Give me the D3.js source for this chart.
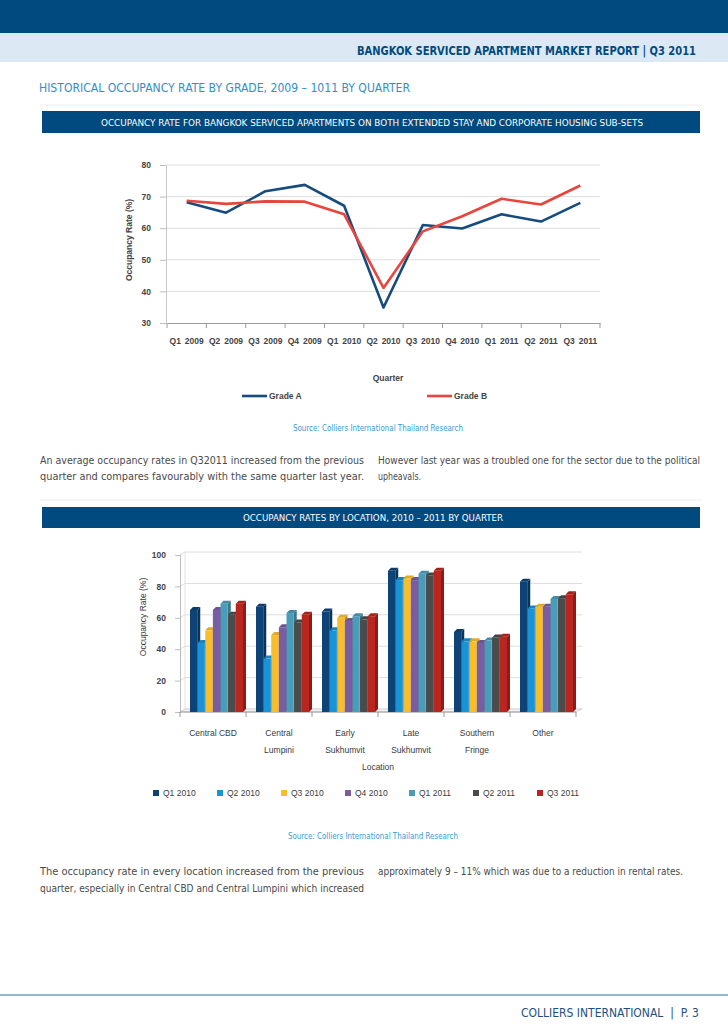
<!DOCTYPE html>
<html><head><meta charset="utf-8">
<script src="https://cdn.jsdelivr.net/npm/d3@7"></script>
<style>
body{margin:0;background:#fff;}
svg{display:block;}
</style></head><body>
<svg id="page" width="728" height="1030"></svg>
<script>
// ---------- DATA ----------
const quarters = ["Q1 2009","Q2 2009","Q3 2009","Q4 2009","Q1 2010","Q2 2010","Q3 2010","Q4 2010","Q1 2011","Q2 2011","Q3 2011"];
const gradeA = [68.2, 64.9, 71.7, 73.7, 67.1, 34.9, 61.0, 59.9, 64.4, 62.1, 68.0];
const gradeB = [68.7, 67.7, 68.5, 68.4, 64.4, 41.1, 59.0, 63.8, 69.3, 67.5, 73.5];
const lineTicks = [30, 40, 50, 60, 70, 80];

const locations = ["Central CBD", "Central Lumpini", "Early Sukhumvit", "Late Sukhumvit", "Southern Fringe", "Other"];
const locationLines = [["Central CBD"], ["Central", "Lumpini"], ["Early", "Sukhumvit"], ["Late", "Sukhumvit"], ["Southern", "Fringe"], ["Other"]];
const barSeries = ["Q1 2010", "Q2 2010", "Q3 2010", "Q4 2010", "Q1 2011", "Q2 2011", "Q3 2011"];
const q1_2010 = [65, 67, 64, 90, 51, 83];
const q2_2010 = [44, 34, 52, 84, 45, 66];
const q3_2010 = [52, 49, 60, 85, 45, 67];
const q4_2010 = [65, 54, 58, 84, 44, 67];
const q1_2011 = [69, 63, 61, 88, 45.5, 72];
const q2_2011 = [62, 57, 59, 87, 47.5, 72.5];
const q3_2011 = [69, 62, 61, 90, 48, 75];
const barTicks = [0, 20, 40, 60, 80, 100];
const barColors = ["#0e4377", "#1a93d6", "#f8bd29", "#7a5ca2", "#4a9db8", "#4b4b4b", "#b8261f"];

// ---------- PAGE ----------
const svg = d3.select("#page");
const NAVY = "#004a80";
const FONT = "'Liberation Sans Narrow','DejaVu Sans Condensed','Liberation Sans',sans-serif";
const ARIAL = "'Liberation Sans',Arial,sans-serif";

svg.append("rect").attr("x",0).attr("y",0).attr("width",728).attr("height",33).attr("fill",NAVY);
svg.append("rect").attr("x",0).attr("y",33).attr("width",728).attr("height",29).attr("fill","#dce9f5");

function fitText(sel, x, y, len, anchor){
  sel.attr("x", x).attr("y", y).attr("textLength", len).attr("lengthAdjust","spacingAndGlyphs");
  if(anchor) sel.attr("text-anchor", anchor);
  return sel;
}

fitText(svg.append("text").text("BANGKOK SERVICED APARTMENT MARKET REPORT | Q3 2011")
  .attr("font-family",FONT).attr("font-weight","bold").attr("font-size",11.5).attr("fill",NAVY), 357, 55, 339);

fitText(svg.append("text").text("HISTORICAL OCCUPANCY RATE BY GRADE, 2009 – 1011 BY QUARTER")
  .attr("font-family",FONT).attr("font-size",11.5).attr("fill","#2f90c8"), 39, 92, 371);

svg.append("line").attr("x1",40).attr("x2",702).attr("y1",105).attr("y2",105).attr("stroke","#ededed");
svg.append("rect").attr("x",42).attr("y",111).attr("width",658).attr("height",22).attr("fill",NAVY);
fitText(svg.append("text").text("OCCUPANCY RATE FOR BANGKOK SERVICED APARTMENTS ON BOTH EXTENDED STAY AND CORPORATE HOUSING SUB-SETS")
  .attr("font-family",FONT).attr("font-size",9.5).attr("fill","#fff"), 101, 125.5, 542);

// ---------- LINE CHART ----------
const xL = d3.scaleBand().domain(quarters).range([167, 600]).padding(0);
const yL = d3.scaleLinear().domain([30, 80]).range([323, 165]);
const gL = svg.append("g");

gL.selectAll("line.grid").data(lineTicks.slice(1)).join("line").attr("class","grid")
  .attr("x1",167).attr("x2",600).attr("y1",d=>yL(d)).attr("y2",d=>yL(d))
  .attr("stroke","#dedede").attr("stroke-width",1);

const yAxL = gL.append("g").attr("transform","translate(166,0)")
  .call(d3.axisLeft(yL).tickValues(lineTicks).tickSize(6).tickPadding(9));
yAxL.select(".domain").attr("stroke","#c8c8c8");
yAxL.selectAll(".tick line").attr("stroke","#bdbdbd");
yAxL.selectAll("text").attr("font-family",ARIAL).attr("font-weight","bold").attr("font-size",8.5).attr("fill","#444");

const xAxL = gL.append("g").attr("transform","translate(0,323)")
  .call(d3.axisBottom(xL).tickSize(0).tickPadding(15));
xAxL.select(".domain").attr("stroke","#9a9a9a");
xAxL.selectAll("text").attr("font-family",ARIAL).attr("font-weight","bold").attr("font-size",8.5)
  .attr("fill","#444").attr("word-spacing",1.5);
gL.selectAll("line.xt").data(quarters.concat(["end"])).join("line").attr("class","xt")
  .attr("x1",d=>d==="end"?600:xL(d)).attr("x2",d=>d==="end"?600:xL(d))
  .attr("y1",323).attr("y2",328).attr("stroke","#9a9a9a");

const lineGen = d3.line().x((d,i)=>xL(quarters[i]) + xL.bandwidth()/2).y(d=>yL(d));
gL.append("path").datum(gradeA).attr("d",lineGen).attr("fill","none").attr("stroke","#164b7e").attr("stroke-width",2.6).attr("stroke-linejoin","round");
gL.append("path").datum(gradeB).attr("d",lineGen).attr("fill","none").attr("stroke","#e8453d").attr("stroke-width",2.6).attr("stroke-linejoin","round");

gL.append("text").text("Occupancy Rate (%)").attr("transform","translate(132,240) rotate(-90)")
  .attr("text-anchor","middle").attr("font-family",ARIAL).attr("font-weight","bold").attr("font-size",8.5).attr("fill","#444");
gL.append("text").text("Quarter").attr("x",388).attr("y",381).attr("text-anchor","middle")
  .attr("font-family",ARIAL).attr("font-weight","bold").attr("font-size",8.5).attr("fill","#444");

const lineLegend = [{name:"Grade A", color:"#164b7e", x:242},{name:"Grade B", color:"#e8453d", x:427}];
const lg = gL.selectAll("g.lg").data(lineLegend).join("g").attr("class","lg");
lg.append("line").attr("x1",d=>d.x).attr("x2",d=>d.x+25).attr("y1",396).attr("y2",396).attr("stroke",d=>d.color).attr("stroke-width",2.6);
lg.append("text").text(d=>d.name).attr("x",d=>d.x+27).attr("y",399).attr("font-family",ARIAL).attr("font-weight","bold").attr("font-size",8.5).attr("fill","#444");

svg.append("text").text("Source: Colliers International Thailand Research").attr("font-family",FONT).attr("font-size",8).attr("fill","#3a9ad0")
  .attr("x",293).attr("y",431).attr("textLength",170).attr("lengthAdjust","spacingAndGlyphs");

// ---------- PARAGRAPHS ----------
function bodyLine(text, x, y, width){
  return svg.append("text").text(text).attr("x",x).attr("y",y)
    .attr("font-family",FONT).attr("font-size",10.5).attr("fill","#4a4a4a")
    .attr("textLength", width).attr("lengthAdjust","spacingAndGlyphs");
}
bodyLine("An average occupancy rates in Q32011 increased from the previous", 40, 464, 324);
bodyLine("quarter and compares favourably with the same quarter last year.", 40, 480, 324);
bodyLine("However last year was a troubled one for the sector due to the political", 378, 464, 322);
bodyLine("upheavals.", 378, 480, 43);

svg.append("line").attr("x1",40).attr("x2",702).attr("y1",500).attr("y2",500).attr("stroke","#ededed");
svg.append("rect").attr("x",42).attr("y",507).attr("width",658).attr("height",21).attr("fill",NAVY);
fitText(svg.append("text").text("OCCUPANCY RATES BY LOCATION, 2010 – 2011 BY QUARTER")
  .attr("font-family",FONT).attr("font-size",9.5).attr("fill","#fff"), 243, 521, 260);

// ---------- BAR CHART ----------
const seriesValues = [q1_2010, q2_2010, q3_2010, q4_2010, q1_2011, q2_2011, q3_2011];
const x0 = d3.scaleBand().domain(locations).range([180, 576]).padding(0);
const x1 = d3.scaleBand().domain(barSeries).range([10, 63]).paddingInner(0.05);
const yB = d3.scaleLinear().domain([0, 100]).range([712, 555]);
const gB = svg.append("g");
const DEP = 3;

// back wall gridlines
gB.selectAll("path.bgrid").data(barTicks).join("path").attr("class","bgrid")
  .attr("d", d => `M180,${yB(d)} L${180+DEP+2},${yB(d)-DEP} L582,${yB(d)-DEP}`)
  .attr("fill","none").attr("stroke","#dcdcdc");
gB.append("line").attr("x1",180+DEP+2).attr("x2",180+DEP+2).attr("y1",yB(100)-DEP).attr("y2",yB(0)-DEP).attr("stroke","#e2e2e2");
// floor
gB.append("path").attr("d",`M180,712 L576,712 L582,${712-DEP} L${180+DEP+2},${712-DEP} Z`).attr("fill","#f1f1f1").attr("stroke","#c8c8c8").attr("stroke-width",0.6);

const yAxB = gB.append("g").attr("transform","translate(180,0)")
  .call(d3.axisLeft(yB).tickValues(barTicks).tickSize(5).tickPadding(9));
yAxB.select(".domain").attr("stroke","#bdbdbd");
yAxB.selectAll(".tick line").attr("stroke","#bdbdbd");
yAxB.selectAll("text").attr("font-family",ARIAL).attr("font-weight","bold").attr("font-size",8.5).attr("fill","#444");

gB.append("line").attr("x1",180).attr("x2",576).attr("y1",712).attr("y2",712).attr("stroke","#9a9a9a");
gB.selectAll("line.bt").data(locations.concat(["end"])).join("line").attr("class","bt")
  .attr("x1",d=>d==="end"?576:x0(d)).attr("x2",d=>d==="end"?576:x0(d))
  .attr("y1",712).attr("y2",717).attr("stroke","#9a9a9a");

const bars = [];
locations.forEach((loc, li) => {
  barSeries.forEach((s, si) => {
    bars.push({loc, s, v: seriesValues[si][li], c: barColors[si]});
  });
});
const bw = x1.bandwidth();
const bg = gB.selectAll("g.bar").data(bars).join("g").attr("class","bar");
bg.append("path").attr("d", d => {
    const x = x0(d.loc) + x1(d.s), y = yB(d.v), y0 = yB(0);
    return `M${x+bw},${y} L${x+bw+DEP},${y-DEP} L${x+bw+DEP},${y0-DEP} L${x+bw},${y0} Z`;
  }).attr("fill", d => d3.color(d.c).darker(0.8));
bg.append("path").attr("d", d => {
    const x = x0(d.loc) + x1(d.s), y = yB(d.v);
    return `M${x},${y} L${x+DEP},${y-DEP} L${x+bw+DEP},${y-DEP} L${x+bw},${y} Z`;
  }).attr("fill", d => d3.color(d.c).darker(0.3));
bg.append("rect").attr("x", d => x0(d.loc) + x1(d.s)).attr("y", d => yB(d.v))
  .attr("width", bw).attr("height", d => yB(0) - yB(d.v)).attr("fill", d => d.c);

// category labels
const cl = gB.selectAll("text.cat").data(locations).join("text").attr("class","cat")
  .attr("text-anchor","middle").attr("font-family",ARIAL).attr("font-size",8.5).attr("fill","#3a3a3a");
cl.each(function(d, i){
  const t = d3.select(this);
  locationLines[i].forEach((ln, k) => {
    t.append("tspan").attr("x", x0(d) + x0.bandwidth()/2).attr("y", 736 + k*17).text(ln);
  });
});

gB.append("text").text("Occupancy Rate (%)").attr("transform","translate(146,617) rotate(-90)")
  .attr("text-anchor","middle").attr("font-family",ARIAL).attr("font-size",8.5).attr("fill","#3a3a3a");
gB.append("text").text("Location").attr("x",378).attr("y",770).attr("text-anchor","middle")
  .attr("font-family",ARIAL).attr("font-size",8.5).attr("fill","#3a3a3a");

const legX = d3.scaleBand().domain(barSeries).range([153, 601]);
const bl = gB.selectAll("g.bl").data(barSeries).join("g").attr("class","bl")
  .attr("transform", d => `translate(${legX(d)},793)`);
bl.append("rect").attr("x",0).attr("y",-3).attr("width",6).attr("height",6).attr("fill",(d,i)=>barColors[i]);
bl.append("text").text(d=>d).attr("x",10).attr("y",3).attr("font-family",ARIAL).attr("font-size",8.5).attr("fill","#3a3a3a");

svg.append("text").text("Source: Colliers International Thailand Research").attr("font-family",FONT).attr("font-size",8).attr("fill","#3a9ad0")
  .attr("x",288).attr("y",839).attr("textLength",170).attr("lengthAdjust","spacingAndGlyphs");

bodyLine("The occupancy rate in every location increased from the previous", 40, 875, 324);
bodyLine("quarter, especially in Central CBD and Central Lumpini which increased", 40, 892, 324);
bodyLine("approximately 9 – 11% which was due to a reduction in rental rates.", 378, 875, 305);

// ---------- FOOTER ----------
svg.append("line").attr("x1",0).attr("x2",728).attr("y1",995).attr("y2",995).attr("stroke","#6fa3c5").attr("stroke-width",1.5);
fitText(svg.append("text").text("COLLIERS INTERNATIONAL\u00a0\u00a0|\u00a0\u00a0P. 3")
  .attr("font-family",FONT).attr("font-size",12).attr("fill","#1f4f7e"), 521, 1017, 178);
</script>
</body></html>
